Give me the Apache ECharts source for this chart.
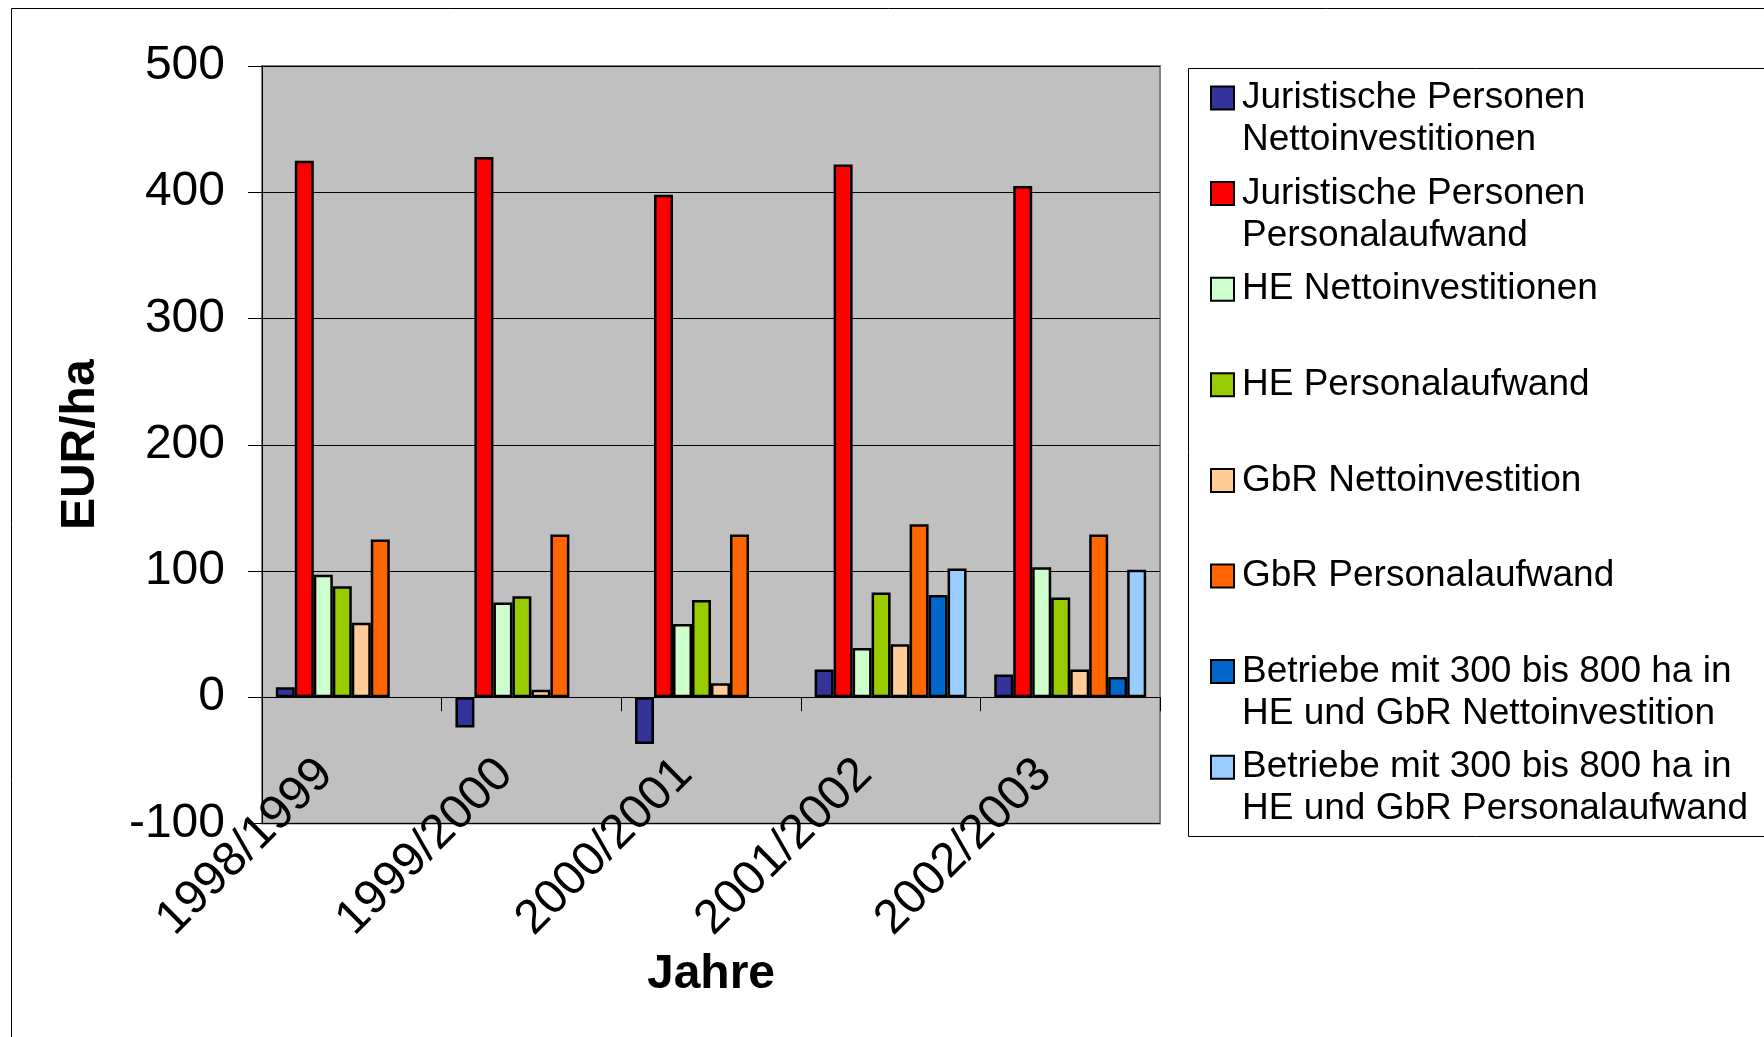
<!DOCTYPE html>
<html>
<head>
<meta charset="utf-8">
<script src="https://cdn.jsdelivr.net/npm/echarts@6/dist/echarts.min.js"></script>
<style>
html,body{margin:0;padding:0;background:#fff;}
#chart{width:1764px;height:1037px;}
</style>
</head>
<body>
<div id="chart"></div>
<script>
const categories = ['1998/1999', '1999/2000', '2000/2001', '2001/2002', '2002/2003'];
const yTicks = { min: -100, max: 500, interval: 100 };

const jurNetto = [8, -24, -37, 22, 18];
const jurPersonal = [425, 428, 398, 422, 405];
const heNetto = [97, 75, 58, 39, 103];
const hePersonal = [88, 80, 77, 83, 79];
const gbrNetto = [59, 6, 11, 42, 22];
const gbrPersonal = [125, 129, 129, 137, 129];
const betNetto = [null, null, null, 81, 16];
const betPersonal = [null, null, null, 102, 101];

const seriesNames = [
  'Juristische Personen\nNettoinvestitionen',
  'Juristische Personen\nPersonalaufwand',
  'HE Nettoinvestitionen',
  'HE Personalaufwand',
  'GbR Nettoinvestition',
  'GbR Personalaufwand',
  'Betriebe mit 300 bis 800 ha in\nHE und GbR Nettoinvestition',
  'Betriebe mit 300 bis 800 ha in\nHE und GbR Personalaufwand'
];
const seriesData = [jurNetto, jurPersonal, heNetto, hePersonal, gbrNetto, gbrPersonal, betNetto, betPersonal];
const colors = ['#333399', '#FF0000', '#CCFFCC', '#99CC00', '#FFCC99', '#FF6600', '#0066CC', '#99CCFF'];

const FONT = "'Liberation Sans', Arial, sans-serif";

const chart = echarts.init(document.getElementById('chart'), null, { renderer: 'canvas' });

const series = seriesData.map((d, i) => ({
  name: seriesNames[i],
  type: 'bar',
  data: d,
  barGap: '0%',
  barCategoryGap: '15.4%',
  itemStyle: { color: colors[i], borderColor: '#000', borderWidth: 2.5 },
  emphasis: { disabled: true },
  animation: false
}));

chart.setOption({
  animation: false,
  color: colors,
  textStyle: { fontFamily: FONT },
  graphic: [
    { type: 'rect', left: 9, top: 6, shape: { width: 1800, height: 1100 }, style: { fill: 'none', stroke: '#000', lineWidth: 1 }, z: -10 },
    { type: 'rect', left: 1186, top: 66, shape: { width: 700, height: 768 }, style: { fill: 'none', stroke: '#000', lineWidth: 1 }, z: -10 }
  ],
  grid: {
    left: 262, right: 604, top: 66, bottom: 213.5,
    containLabel: false,
    outerBoundsMode: 'none',
    show: true, backgroundColor: '#C0C0C0', borderColor: '#808080', borderWidth: 2
  },
  legend: {
    orient: 'vertical',
    left: 1210,
    top: 35,
    padding: 0,
    itemWidth: 23,
    itemHeight: 23,
    itemGap: -30.4,
    selectedMode: false,
    icon: 'rect',
    itemStyle: { borderColor: '#000', borderWidth: 2 },
    formatter: function (name) {
      return name.indexOf('\n') >= 0 ? '\n' + name : '\n' + name + '\n ';
    },
    textStyle: { fontSize: 37, lineHeight: 42, color: '#000', fontFamily: FONT, padding: [0, 0, 0, 3] },
    data: seriesNames
  },
  xAxis: {
    type: 'category',
    data: categories,
    name: 'Jahre',
    nameLocation: 'middle',
    nameGap: 120,
    nameTextStyle: { fontSize: 48, fontWeight: 'bold', color: '#000', fontFamily: FONT },
    axisLine: { onZero: true, lineStyle: { color: '#000', width: 1 } },
    axisTick: { show: true, length: 14, lineStyle: { color: '#000' } },
    axisLabel: { rotate: 45, interval: 0, fontSize: 48, color: '#000', fontFamily: FONT, margin: -83, padding: [0, 37, 0, 0] },
    splitLine: { show: false }
  },
  yAxis: {
    type: 'value',
    min: yTicks.min, max: yTicks.max, interval: yTicks.interval,
    name: 'EUR/ha',
    nameLocation: 'middle',
    nameRotate: 90,
    nameGap: 157,
    nameTextStyle: { fontSize: 48, fontWeight: 'bold', color: '#000', fontFamily: FONT },
    axisLine: { show: true, lineStyle: { color: '#000', width: 1 } },
    axisTick: { show: true, length: 14, lineStyle: { color: '#000' } },
    axisLabel: { fontSize: 48, color: '#000', fontFamily: FONT, margin: 37, padding: [7, 0, 0, 0] },
    splitLine: { show: true, lineStyle: { color: '#000', width: 1 } }
  },
  series: series
});
</script>
</body>
</html>
